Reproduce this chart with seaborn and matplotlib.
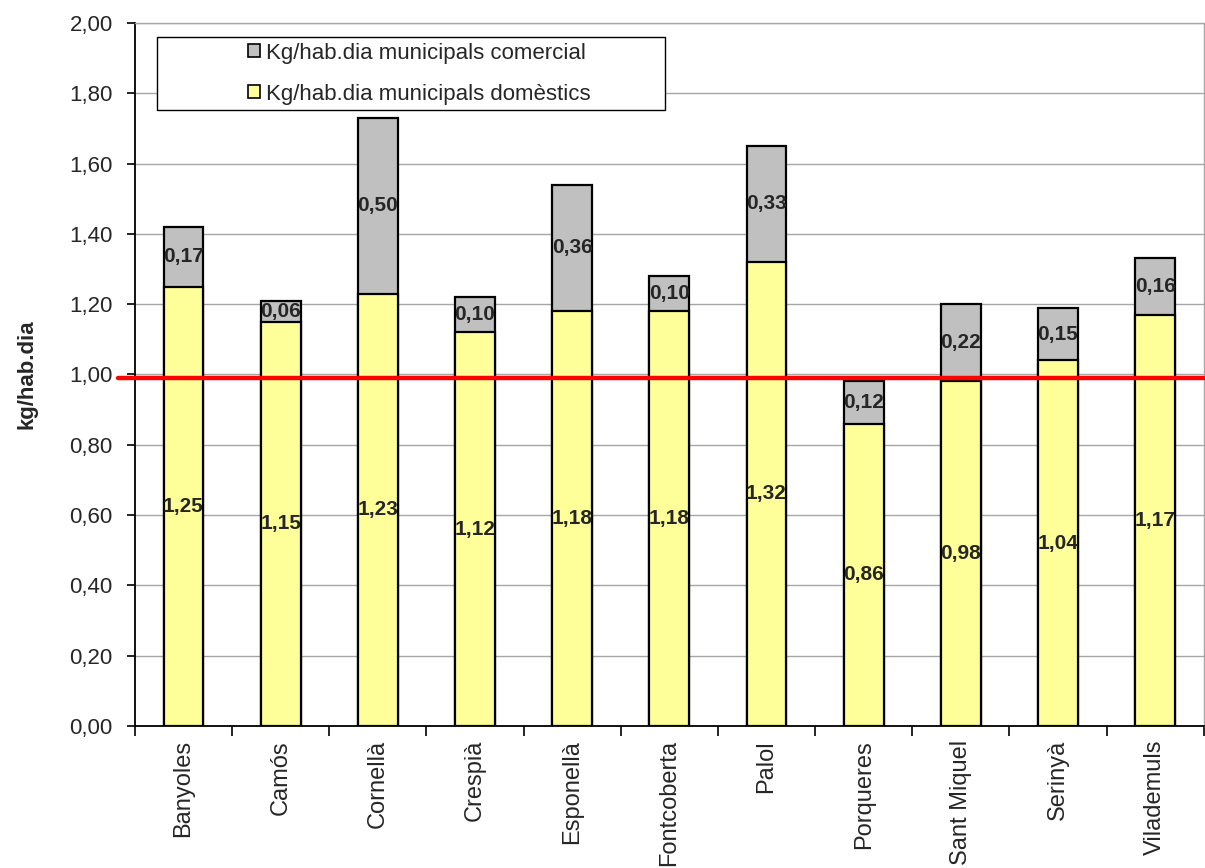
import seaborn as sns
import numpy as np
import matplotlib.pyplot as plt
from matplotlib.patches import Patch, Rectangle
from matplotlib.ticker import FixedLocator

municipis = ['Banyoles', 'Camós', 'Cornellà', 'Crespià', 'Esponellà', 'Fontcoberta',
             'Palol', 'Porqueres', 'Sant Miquel', 'Serinyà', 'Vilademuls']
domestic = [1.25, 1.15, 1.23, 1.12, 1.18, 1.18, 1.32, 0.86, 0.98, 1.04, 1.17]
comercial = [0.17, 0.06, 0.50, 0.10, 0.36, 0.10, 0.33, 0.12, 0.22, 0.15, 0.16]
reference = 0.99
yticks = [0.0, 0.2, 0.4, 0.6, 0.8, 1.0, 1.2, 1.4, 1.6, 1.8, 2.0]

total = [d + c for d, c in zip(domestic, comercial)]

sns.set_style('white')
plt.rcParams['font.family'] = ['Liberation Sans', 'DejaVu Sans']

fig = plt.figure(figsize=(12.05, 8.68), dpi=100)
ax = fig.add_axes([0.112, 0.1636, 0.887, 0.81])

yellow = '#FFFF99'
grey = '#C0C0C0'

# stacked look: draw totals in grey, domestic on top in yellow
sns.barplot(x=municipis, y=total, color=grey, saturation=1, width=0.41,
            edgecolor='black', linewidth=1.6, ax=ax, zorder=2)
sns.barplot(x=municipis, y=domestic, color=yellow, saturation=1, width=0.41,
            edgecolor='black', linewidth=1.6, ax=ax, zorder=3)

for i, (d, c) in enumerate(zip(domestic, comercial)):
    ax.text(i, d / 2, f'{d:.2f}'.replace('.', ','), ha='center', va='center',
            fontsize=15, fontweight='bold', zorder=5)
    ax.text(i, d + c / 2, f'{c:.2f}'.replace('.', ','), ha='center', va='center',
            fontsize=15, fontweight='bold', zorder=5)

ax.set_xlim(-0.5, len(municipis) - 0.5)
ax.set_ylim(0, 2.0)
ax.set_yticks(yticks)
ax.set_yticklabels([f'{v:.2f}'.replace('.', ',') for v in yticks], fontsize=16)
ax.yaxis.grid(True, color='#A6A6A6', linewidth=1)
ax.set_axisbelow(True)

ax.set_xticks(range(len(municipis)))
ax.set_xticklabels(municipis, rotation=90, fontsize=17)
ax.xaxis.set_minor_locator(FixedLocator(np.arange(-0.5, len(municipis), 1)))
ax.tick_params(axis='x', which='major', length=0, pad=10)
ax.tick_params(axis='x', which='minor', length=7, width=1.2, color='black', bottom=True)
ax.tick_params(axis='y', length=6, width=1.2, color='black', left=True, pad=10)

ax.set_ylabel('kg/hab.dia', fontsize=16, fontweight='bold', labelpad=23)
ax.set_xlabel('')

for side in ['left', 'bottom']:
    ax.spines[side].set_color('black')
    ax.spines[side].set_linewidth(1.3)
for side in ['top', 'right']:
    ax.spines[side].set_color('#A6A6A6')
    ax.spines[side].set_linewidth(1)

ax.plot([-0.016, 1], [reference, reference], color='red', linewidth=3.2,
        transform=ax.get_yaxis_transform(), clip_on=False, zorder=6)

# legend box
ax.add_patch(Rectangle((0.0206, 0.876), 0.475, 0.104, transform=ax.transAxes,
                       facecolor='white', edgecolor='black', linewidth=1, zorder=4))
handles = [Patch(facecolor=grey, edgecolor='black', linewidth=1.2,
                 label='Kg/hab.dia municipals comercial'),
           Patch(facecolor=yellow, edgecolor='black', linewidth=1.2,
                 label='Kg/hab.dia municipals domèstics')]
leg = ax.legend(handles=handles, loc='center', bbox_to_anchor=(0.266, 0.928),
                frameon=False, fontsize=16, handlelength=0.55, handleheight=0.55,
                handletextpad=0.25, labelspacing=0.9)
leg.set_zorder(7)

fig.savefig('out.png', dpi=100)
